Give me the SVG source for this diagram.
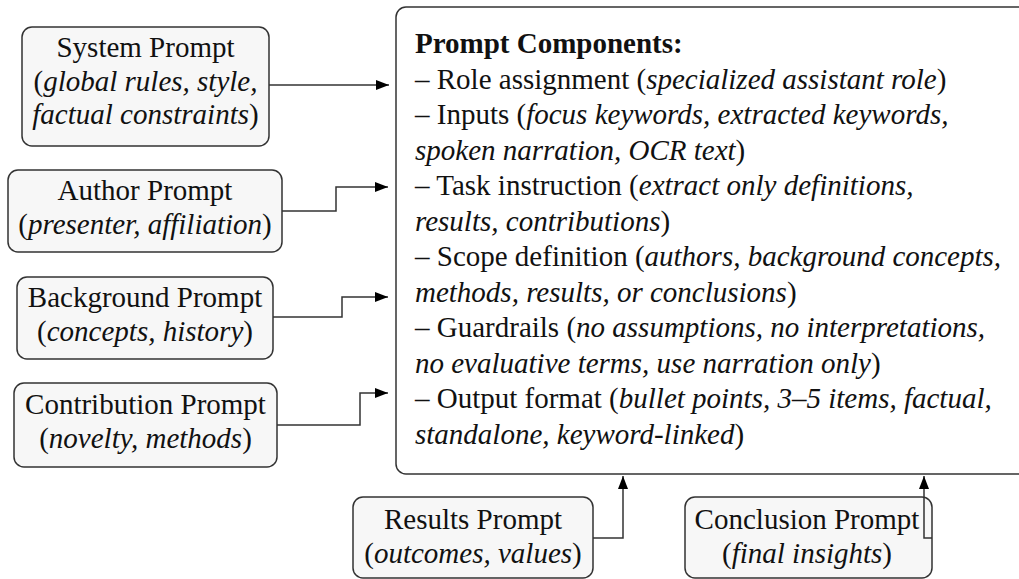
<svg xmlns="http://www.w3.org/2000/svg" width="1019" height="579" viewBox="0 0 1019 579">
  <style>
    text { font-family: "Liberation Serif", "Times New Roman", serif; font-size: 29px; fill: #111; }
    .c { text-anchor: middle; }
    .i { font-style: italic; }
    .b { font-weight: bold; }
    .node rect { fill: #f7f7f7; stroke: #333; stroke-width: 1.5; }
    .main rect { fill: #ffffff; stroke: #333; stroke-width: 1.5; }
    .edge { fill: none; stroke: #333; stroke-width: 1.5; }
  </style>
  <defs>
    <marker id="arrow" markerUnits="userSpaceOnUse" markerWidth="14" markerHeight="10" refX="13" refY="5" orient="auto">
      <path d="M0,0 L13,5 L0,10 Z" fill="#000"/>
    </marker>
  </defs>

  <!-- central prompt template -->
  <g id="prompt-components" class="main">
    <rect x="396" y="7" width="650" height="467" rx="10"/>
    <text x="415" y="53" class="b">Prompt Components:</text>
    <text x="415" y="88.5">– Role assignment (<tspan class="i">specialized assistant role</tspan>)</text>
    <text x="415" y="124">– Inputs (<tspan class="i">focus keywords, extracted keywords,</tspan></text>
    <text x="415" y="159.5"><tspan class="i">spoken narration, OCR text</tspan>)</text>
    <text x="415" y="195">– Task instruction (<tspan class="i">extract only definitions,</tspan></text>
    <text x="415" y="230.5"><tspan class="i">results, contributions</tspan>)</text>
    <text x="415" y="266">– Scope definition (<tspan class="i">authors, background concepts,</tspan></text>
    <text x="415" y="301.5"><tspan class="i">methods, results, or conclusions</tspan>)</text>
    <text x="415" y="337">– Guardrails (<tspan class="i">no assumptions, no interpretations,</tspan></text>
    <text x="415" y="372.5"><tspan class="i">no evaluative terms, use narration only</tspan>)</text>
    <text x="415" y="408">– Output format (<tspan class="i">bullet points, 3–5 items, factual,</tspan></text>
    <text x="415" y="443.5"><tspan class="i">standalone, keyword-linked</tspan>)</text>
  </g>

  <!-- input prompts -->
  <g id="system-prompt" class="node">
    <rect x="22" y="27" width="247" height="119" rx="10"/>
    <text x="145.5" y="57" class="c">System Prompt</text>
    <text x="145.5" y="90.5" class="c">(<tspan class="i">global rules, style,</tspan></text>
    <text x="145.5" y="124" class="c"><tspan class="i">factual constraints</tspan>)</text>
  </g>

  <g id="author-prompt" class="node">
    <rect x="8" y="170" width="274" height="82" rx="10"/>
    <text x="145" y="200" class="c">Author Prompt</text>
    <text x="145" y="233.5" class="c">(<tspan class="i">presenter, affiliation</tspan>)</text>
  </g>

  <g id="background-prompt" class="node">
    <rect x="17" y="277" width="256" height="82" rx="10"/>
    <text x="145" y="307" class="c">Background Prompt</text>
    <text x="145" y="340.5" class="c">(<tspan class="i">concepts, history</tspan>)</text>
  </g>

  <g id="contribution-prompt" class="node">
    <rect x="14" y="383" width="263" height="84" rx="10"/>
    <text x="145.5" y="414" class="c">Contribution Prompt</text>
    <text x="145.5" y="447.5" class="c">(<tspan class="i">novelty, methods</tspan>)</text>
  </g>

  <g id="results-prompt" class="node">
    <rect x="353" y="497" width="240" height="81" rx="10"/>
    <text x="473" y="529" class="c">Results Prompt</text>
    <text x="473" y="562.5" class="c">(<tspan class="i">outcomes, values</tspan>)</text>
  </g>

  <g id="conclusion-prompt" class="node">
    <rect x="685" y="497" width="247" height="81" rx="10"/>
    <text x="807" y="529" class="c">Conclusion Prompt</text>
    <text x="807" y="562.5" class="c">(<tspan class="i">final insights</tspan>)</text>
  </g>

  <!-- connectors into the template -->
  <g id="connectors">
    <path class="edge" d="M269,85 H389" marker-end="url(#arrow)"/>
    <path class="edge" d="M282,211 H336 V187 H388" marker-end="url(#arrow)"/>
    <path class="edge" d="M273,317 H342 V297 H388" marker-end="url(#arrow)"/>
    <path class="edge" d="M277,425 H360 V393 H388" marker-end="url(#arrow)"/>
    <path class="edge" d="M593,538 H623 V476" marker-end="url(#arrow)"/>
    <path class="edge" d="M932,538 H924 V476" marker-end="url(#arrow)"/>
  </g>
</svg>
